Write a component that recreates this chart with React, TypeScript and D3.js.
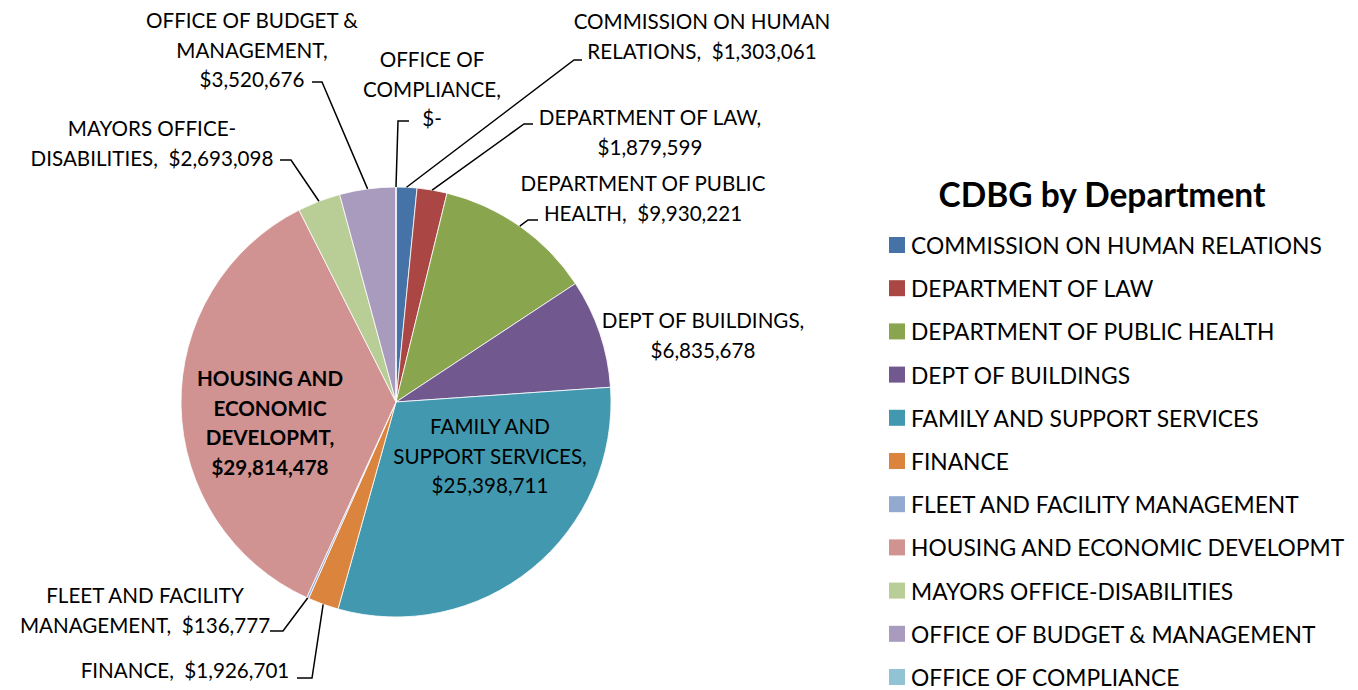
import React from "react";
import * as d3 from "d3";

const departments = [
  "COMMISSION ON HUMAN RELATIONS",
  "DEPARTMENT OF LAW",
  "DEPARTMENT OF PUBLIC HEALTH",
  "DEPT OF BUILDINGS",
  "FAMILY AND SUPPORT SERVICES",
  "FINANCE",
  "FLEET AND FACILITY MANAGEMENT",
  "HOUSING AND ECONOMIC DEVELOPMT",
  "MAYORS OFFICE-DISABILITIES",
  "OFFICE OF BUDGET & MANAGEMENT",
  "OFFICE OF COMPLIANCE",
];
const amounts = [
  1303061, 1879599, 9930221, 6835678, 25398711, 1926701, 136777, 29814478,
  2693098, 3520676, 0,
];
const colors = [
  "#4572A7", "#AA4643", "#89A54E", "#71588F", "#4198AF", "#DB843D",
  "#93A9CF", "#D19392", "#B9CD96", "#A99BBD", "#92C3D4",
];
const chartTitle = "CDBG by Department";

const SP = "\u00A0 ";

// label layout (positions only)
type Lay = {
  lines: string[];
  x: number;
  y: number;
  bold?: boolean;
  hook?: [number, number, number, number];
};
const labelLayout: Lay[] = [
  { lines: ["COMMISSION ON HUMAN", "RELATIONS," + SP + "$1,303,061"], x: 702, y: 21, hook: [582, 60, 574, 60] },
  { lines: ["DEPARTMENT OF LAW,", "$1,879,599"], x: 650, y: 117, hook: [533, 124, 524, 124] },
  { lines: ["DEPARTMENT OF PUBLIC", "HEALTH," + SP + "$9,930,221"], x: 643, y: 183, hook: [538, 220, 528, 220] },
  { lines: ["DEPT OF BUILDINGS,", "$6,835,678"], x: 703, y: 320 },
  { lines: ["FAMILY AND", "SUPPORT SERVICES,", "$25,398,711"], x: 490, y: 426 },
  { lines: ["FINANCE," + SP + "$1,926,701"], x: 185, y: 670, hook: [297, 678, 312, 678] },
  { lines: ["FLEET AND FACILITY", "MANAGEMENT," + SP + "$136,777"], x: 145, y: 595, hook: [270, 631, 283, 631] },
  { lines: ["HOUSING AND", "ECONOMIC", "DEVELOPMT,", "$29,814,478"], x: 270, y: 378, bold: true },
  { lines: ["MAYORS OFFICE-", "DISABILITIES," + SP + "$2,693,098"], x: 152, y: 128, hook: [280, 160, 291, 160] },
  { lines: ["OFFICE OF BUDGET &", "MANAGEMENT,", "$3,520,676"], x: 252, y: 20, hook: [312, 82, 322, 82] },
  { lines: ["OFFICE OF", "COMPLIANCE,", "$-"], x: 432, y: 59, hook: [409, 121, 398, 121] },
];

const W = 1358;
const H = 690;
const cx = 396;
const cy = 402;
const R = 215;
const FONT = "Lato, 'Open Sans', sans-serif";
const FS = 20.6;
const LFS = 22.8;
const LH = 29.5;

export default function App() {
  const pie = d3
    .pie<number>()
    .sort(null)
    .value((d) => d)
    .startAngle(0)
    .endAngle(2 * Math.PI);
  const arcs = pie(amounts);
  const arc = d3.arc<d3.PieArcDatum<number>>().innerRadius(0).outerRadius(R);

  const legendY = d3
    .scalePoint<string>()
    .domain(departments)
    .range([245, 677]);

  return (
    <svg
      width={W}
      height={H}
      style={{ position: "absolute", left: 0, top: 0, background: "#fff" }}
    >
      <g transform={`translate(${cx},${cy})`}>
        {arcs.map((a, i) => (
          <path
            key={i}
            d={arc(a) || ""}
            fill={colors[i]}
            stroke="#fff"
            strokeWidth={0.8}
          />
        ))}
      </g>
      {/* leader lines */}
      {arcs.map((a, i) => {
        const L = labelLayout[i];
        if (!L.hook) return null;
        const m = (a.startAngle + a.endAngle) / 2;
        const ex = cx + R * Math.sin(m);
        const ey = cy - R * Math.cos(m);
        const [x1, y1, x2, y2] = L.hook;
        return (
          <polyline
            key={"l" + i}
            points={`${x1},${y1} ${x2},${y2} ${ex},${ey}`}
            fill="none"
            stroke="#000"
            strokeWidth={1.5}
          />
        );
      })}
      {/* data labels */}
      {labelLayout.map((L, i) => (
        <text
          key={"t" + i}
          fontFamily={FONT}
          fontSize={FS}
          fontWeight={L.bold ? 700 : 400}
          textAnchor="middle"
          fill="#000"
        >
          {L.lines.map((s, j) => (
            <tspan key={j} x={L.x} y={L.y + j * LH} dominantBaseline="central">
              {s}
            </tspan>
          ))}
        </text>
      ))}
      {/* legend */}
      <text
        x={1102}
        y={194}
        textAnchor="middle"
        dominantBaseline="central"
        fontFamily={FONT}
        fontSize={33.5}
        fontWeight={700}
      >
        {chartTitle}
      </text>
      {departments.map((d, i) => (
        <g key={"g" + i} transform={`translate(889,${legendY(d)})`}>
          <rect x={0} y={-8} width={16} height={16} fill={colors[i]} />
          <text
            x={22}
            y={0}
            dominantBaseline="central"
            fontFamily={FONT}
            fontSize={LFS}
          >
            {d}
          </text>
        </g>
      ))}
    </svg>
  );
}
